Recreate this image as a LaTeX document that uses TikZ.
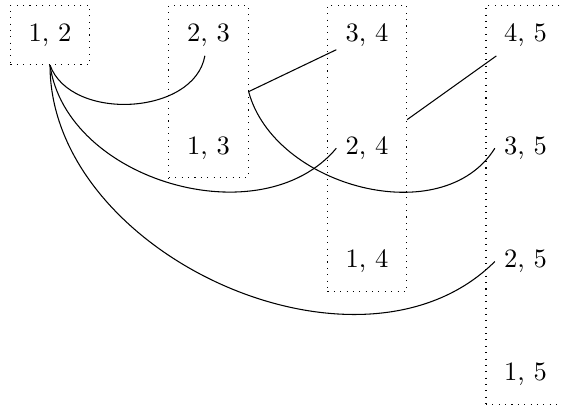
\documentclass[tikz,border=0pt]{standalone}
\usetikzlibrary{fit}
\begin{document}
\begin{tikzpicture}[
  pair/.style={inner sep=0.333em},
  group/.style={draw, dotted, inner sep=0.333em, fit=#1},
  link/.style={line width=0.4pt}
]
\useasboundingbox (-18.85pt,13.2pt) rectangle (192.6pt,-139.1pt);
\node[pair] (n12) at (0,0) {1, 2};
\node[pair] (n23) at (2.1,0) {2, 3};
\node[pair] (n13) at (2.1,-1.5) {1, 3};
\node[pair] (n34) at (4.2,0) {3, 4};
\node[pair] (n24) at (4.2,-1.5) {2, 4};
\node[pair] (n14) at (4.2,-3) {1, 4};
\node[pair] (n45) at (6.3,0) {4, 5};
\node[pair] (n35) at (6.3,-1.5) {3, 5};
\node[pair] (n25) at (6.3,-3) {2, 5};
\node[pair] (n15) at (6.3,-4.5) {1, 5};
\node[group={(n12)}] (F1) {};
\node[group={(n23)(n13)}] (F2) {};
\node[group={(n34)(n14)}] (F3) {};
\node[group={(n45)(n15)}] (F4) {};
\draw[link] (F1.south) to[out=-70,in=-100] (n23);
\draw[link] (F1.south) to[out=-82,in=-130] (n24.west);
\draw[link] (F1.south) to[out=-90,in=-135] (n25.west);
\draw[link] (n34) -- (F2.east) to[out=-75,in=-122] (n35.west);
\draw[link] (F3) -- (n45);
\end{tikzpicture}
\end{document}
